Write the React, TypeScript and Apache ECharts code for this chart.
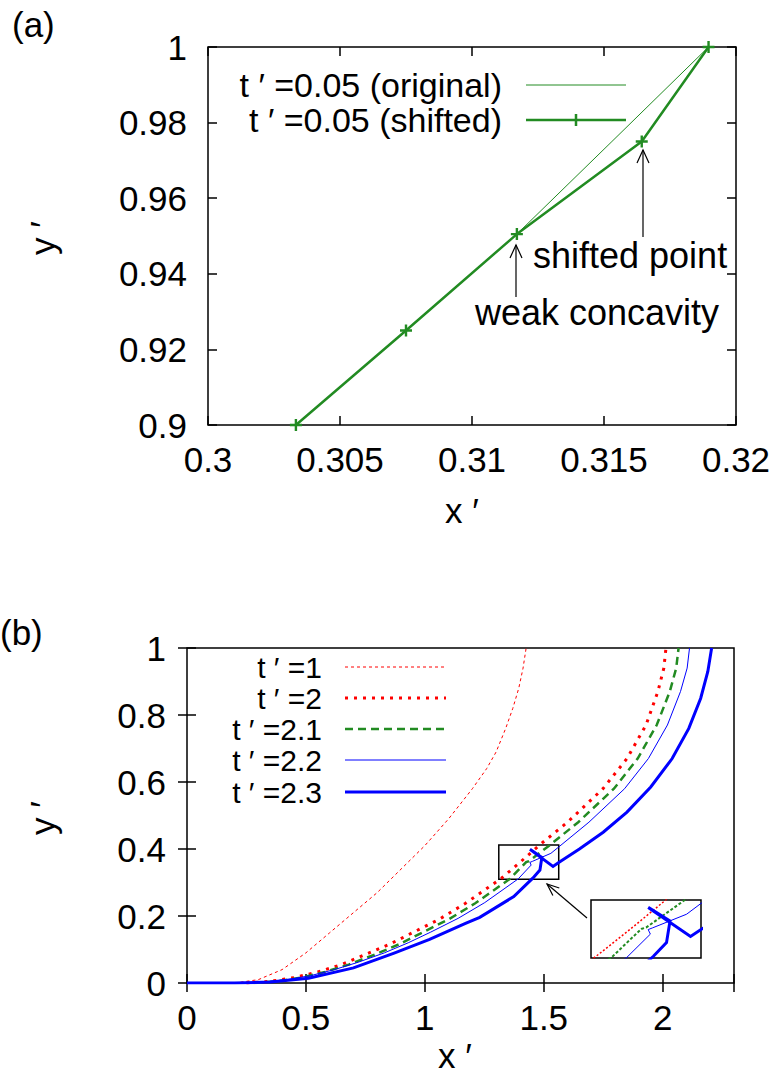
import React, { useEffect, useRef } from 'react';
import * as echarts from 'echarts';

const GREEN = '#228B22';
const RED = '#ff0000';
const BLUE = '#0000ff';
const FONT = '"Liberation Sans", Arial, sans-serif';
const FS = 35;

// ---------- Panel (a) ----------
const aXTicks = [0.3, 0.305, 0.31, 0.315, 0.32];
const aYTicks = [0.9, 0.92, 0.94, 0.96, 0.98, 1];
const aOriginalX = [0.30333, 0.3075, 0.3117, 0.3153, 0.31896];
const aOriginalY = [0.9, 0.925, 0.9505, 0.975, 1.0];
const aShiftedX = [0.30333, 0.3075, 0.3117, 0.31643, 0.31896];
const aShiftedY = [0.9, 0.925, 0.9505, 0.975, 1.0];

// ---------- Panel (b) ----------
const bXTicks = [0, 0.5, 1, 1.5, 2];
const bYTicks = [0, 0.2, 0.4, 0.6, 0.8, 1];

const t1X = [0.2, 0.3, 0.4, 0.5, 0.6, 0.7, 0.8, 0.9, 1.0, 1.1, 1.2, 1.26, 1.3, 1.34, 1.37, 1.395, 1.413, 1.426];
const t1Y = [0, 0.01, 0.04, 0.09, 0.15, 0.21, 0.27, 0.34, 0.41, 0.49, 0.58, 0.64, 0.69, 0.76, 0.82, 0.88, 0.94, 1.0];

const t2X = [0.25, 0.35, 0.45, 0.55, 0.65, 0.75, 0.85, 0.945, 1.06, 1.171, 1.321, 1.4, 1.479, 1.6, 1.749, 1.85, 1.93, 1.98, 2.005, 2.014];
const t2Y = [0, 0.005, 0.016, 0.033, 0.055, 0.085, 0.115, 0.149, 0.19, 0.238, 0.312, 0.36, 0.41, 0.48, 0.58, 0.67, 0.77, 0.87, 0.94, 1.0];

const t21X = [0.28, 0.38, 0.48, 0.58, 0.68, 0.79, 0.89, 0.985, 1.1, 1.212, 1.358, 1.426, 1.438, 1.526, 1.645, 1.795, 1.895, 1.975, 2.03, 2.057, 2.067];
const t21Y = [0, 0.005, 0.016, 0.033, 0.055, 0.085, 0.115, 0.149, 0.19, 0.238, 0.311, 0.361, 0.364, 0.412, 0.48, 0.58, 0.67, 0.77, 0.87, 0.94, 1.0];

const t22X = [0, 0.2, 0.32, 0.42, 0.52, 0.62, 0.72, 0.83, 0.93, 1.025, 1.14, 1.252, 1.393, 1.447, 1.442, 1.452, 1.53, 1.563, 1.69, 1.84, 1.94, 2.02, 2.075, 2.103, 2.113];
const t22Y = [0, 0, 0.003, 0.01, 0.022, 0.04, 0.062, 0.09, 0.12, 0.152, 0.193, 0.24, 0.311, 0.352, 0.36, 0.363, 0.387, 0.406, 0.48, 0.58, 0.67, 0.77, 0.87, 0.94, 1.0];

const t23X = [0, 0.2, 0.35, 0.511, 0.7, 0.871, 1.02, 1.171, 1.231, 1.374, 1.454, 1.484, 1.492, 1.442, 1.539, 1.563, 1.65, 1.75, 1.85, 1.95, 2.04, 2.11, 2.16, 2.19, 2.206];
const t23Y = [0, 0, 0.003, 0.014, 0.045, 0.089, 0.13, 0.178, 0.196, 0.258, 0.313, 0.337, 0.375, 0.399, 0.348, 0.36, 0.4, 0.45, 0.51, 0.585, 0.67, 0.76, 0.85, 0.93, 1.0];

// zoom window shown in the inset
const zoomX = [1.311, 1.563];
const zoomY = [0.31, 0.412];

const bLegend = ['t ′ =1', 't ′ =2', 't ′ =2.1', 't ′ =2.2', 't ′ =2.3'];
const aLegend = ['t ′ =0.05 (original)', 't ′ =0.05 (shifted)'];

const zip = (xs: number[], ys: number[]) => xs.map((x, i) => [x, ys[i]]);

const tickFmt = (ticks: number[]) => (v: number) => {
  const t = ticks.find((k) => Math.abs(k - v) < 1e-9);
  return t === undefined ? '' : String(t);
};

const PLUS = 'path://M4,0H6V4H10V6H6V10H4V6H0V4H4Z';

function axisPair(grid: number, min: number, max: number, interval: number, ticks: number[], dim: 'x' | 'y') {
  const main: any = {
    type: 'value',
    gridIndex: grid,
    min,
    max,
    interval,
    position: dim === 'x' ? 'bottom' : 'left',
    axisLine: { show: false },
    axisTick: { show: true, inside: true, length: 9, lineStyle: { color: '#000', width: 1.5 } },
    axisLabel: {
      show: true,
      color: '#000',
      fontSize: FS,
      fontFamily: FONT,
      margin: dim === 'x' ? 17 : 21,
      formatter: tickFmt(ticks),
    },
    splitLine: { show: false },
  };
  const mirror: any = {
    ...main,
    position: dim === 'x' ? 'top' : 'right',
    axisLabel: { show: false },
  };
  return [main, mirror];
}

export default function App() {
  const ref = useRef<HTMLDivElement>(null);
  useEffect(() => {
    if (!ref.current) return;
    const chart = echarts.init(ref.current, undefined, { renderer: 'svg' });

    const [ax0, ax1] = axisPair(0, 0.3, 0.32, 0.005, aXTicks, 'x');
    const [ay0, ay1] = axisPair(0, 0.9, 1, 0.02, aYTicks, 'y');
    const [bx0, bx1] = axisPair(1, 0, 2.3, 0.5, bXTicks, 'x');
    const [by0, by1] = axisPair(1, 0, 1, 0.2, bYTicks, 'y');

    const insetX = { type: 'value', gridIndex: 2, min: zoomX[0], max: zoomX[1], show: false };
    const insetY = { type: 'value', gridIndex: 2, min: zoomY[0], max: zoomY[1], show: false };

    const textStyle = (text: string, align: string, size: number = FS) => ({
      text,
      fill: '#000',
      font: `${size}px ${FONT}`,
      align,
      verticalAlign: 'middle',
    });

    const bRows = [667, 698, 729, 760, 792];
    const bStyles = [
      { stroke: RED, lineWidth: 1, lineDash: [3, 3] },
      { stroke: RED, lineWidth: 3, lineDash: [3, 6] },
      { stroke: GREEN, lineWidth: 2.5, lineDash: [8, 5] },
      { stroke: BLUE, lineWidth: 1 },
      { stroke: BLUE, lineWidth: 3 },
    ];

    const graphic: any[] = [
      { type: 'text', x: 0, y: 632, style: textStyle('(b)', 'left') },
      { type: 'text', x: 12, y: 24, style: textStyle('(a)', 'left') },
      // axis names
      { type: 'text', x: 462, y: 510, style: textStyle('x ′', 'center') },
      { type: 'text', x: 455, y: 1055, style: textStyle('x ′', 'center') },
      { type: 'text', x: 42, y: 238, rotation: Math.PI / 2, style: textStyle('y ′', 'center') },
      { type: 'text', x: 42, y: 818, rotation: Math.PI / 2, style: textStyle('y ′', 'center') },
      // legend (a)
      { type: 'text', x: 502, y: 85, style: textStyle(aLegend[0], 'right', 34) },
      { type: 'line', shape: { x1: 526, y1: 85, x2: 626, y2: 85 }, style: { stroke: GREEN, lineWidth: 1 } },
      { type: 'text', x: 502, y: 120, style: textStyle(aLegend[1], 'right', 34) },
      { type: 'line', shape: { x1: 526, y1: 120, x2: 626, y2: 120 }, style: { stroke: GREEN, lineWidth: 2.5 } },
      { type: 'line', shape: { x1: 576, y1: 114, x2: 576, y2: 126 }, style: { stroke: GREEN, lineWidth: 2.5 } },
      // annotations (a)
      { type: 'text', x: 533, y: 255, style: textStyle('shifted point', 'left', 36) },
      { type: 'text', x: 475, y: 312, style: textStyle('weak concavity', 'left', 36) },
      { type: 'line', shape: { x1: 643, y1: 237, x2: 643, y2: 150 }, style: { stroke: '#000', lineWidth: 1.2 } },
      { type: 'polyline', shape: { points: [[637, 163], [643, 150], [649, 163]] }, style: { stroke: '#000', lineWidth: 1.2, fill: null } },
      { type: 'line', shape: { x1: 516, y1: 297, x2: 516, y2: 245 }, style: { stroke: '#000', lineWidth: 1.2 } },
      { type: 'polyline', shape: { points: [[510, 258], [516, 245], [522, 258]] }, style: { stroke: '#000', lineWidth: 1.2, fill: null } },
      // arrow to inset
      { type: 'line', shape: { x1: 587, y1: 918, x2: 547, y2: 884 }, style: { stroke: '#000', lineWidth: 1.2 } },
      { type: 'polyline', shape: { points: [[559.3, 888], [547, 884], [552.9, 895.6]] }, style: { stroke: '#000', lineWidth: 1.2, fill: null } },
    ];
    bLegend.forEach((lab, i) => {
      graphic.push({ type: 'text', x: 322, y: bRows[i], style: textStyle(lab, 'right', 30) });
      graphic.push({ type: 'line', shape: { x1: 345, y1: bRows[i], x2: 446, y2: bRows[i] }, style: { ...bStyles[i], fill: null } });
    });

    const bLine = (name: string, xs: number[], ys: number[], color: string, width: number, dash: any, xi: number, yi: number, extra: any = {}) => ({
      name,
      type: 'line',
      xAxisIndex: xi,
      yAxisIndex: yi,
      data: zip(xs, ys),
      symbol: 'none',
      showSymbol: false,
      clip: true,
      lineStyle: { color, width, type: dash, cap: 'butt', join: 'miter' },
      itemStyle: { color },
      z: 3,
      ...extra,
    });

    chart.setOption({
      animation: false,
      backgroundColor: '#fff',
      grid: [
        { left: 208, top: 47, width: 528, height: 378, show: true, borderColor: '#000', borderWidth: 1.5, backgroundColor: 'transparent' },
        { left: 187, top: 648, width: 547, height: 335, show: true, borderColor: '#000', borderWidth: 1.5, backgroundColor: 'transparent' },
        { left: 591, top: 900, width: 110, height: 58, show: true, borderColor: '#000', borderWidth: 1.5, backgroundColor: '#fff' },
      ],
      xAxis: [ax0, ax1, bx0, bx1, insetX],
      yAxis: [ay0, ay1, by0, by1, insetY],
      series: [
        {
          name: 't′=0.05 (original)',
          type: 'line',
          xAxisIndex: 0,
          yAxisIndex: 0,
          data: zip(aOriginalX, aOriginalY),
          symbol: 'none',
          lineStyle: { color: GREEN, width: 1 },
          itemStyle: { color: GREEN },
        },
        {
          name: 't′=0.05 (shifted)',
          type: 'line',
          xAxisIndex: 0,
          yAxisIndex: 0,
          data: zip(aShiftedX, aShiftedY),
          symbol: PLUS,
          symbolSize: 12,
          showSymbol: true,
          lineStyle: { color: GREEN, width: 2.5 },
          itemStyle: { color: GREEN },
        },
        bLine('t′=1', t1X, t1Y, RED, 1, [3, 3], 2, 2),
        bLine('t′=2', t2X, t2Y, RED, 3, [3, 6], 2, 2),
        bLine('t′=2.1', t21X, t21Y, GREEN, 2.5, [8, 5], 2, 2),
        bLine('t′=2.2', t22X, t22Y, BLUE, 1, 'solid', 2, 2),
        bLine('t′=2.3', t23X, t23Y, BLUE, 3, 'solid', 2, 2, {
          markArea: {
            silent: true,
            itemStyle: { color: 'transparent', borderColor: '#000', borderWidth: 1.5 },
            data: [[{ coord: [zoomX[0], zoomY[1]] }, { coord: [zoomX[1], zoomY[0]] }]],
          },
        }),
        // inset
        bLine('t′=2 (inset)', t2X, t2Y, RED, 1.5, [2, 2], 4, 4),
        bLine('t′=2.1 (inset)', t21X, t21Y, GREEN, 2, [3, 2], 4, 4),
        bLine('t′=2.2 (inset)', t22X, t22Y, BLUE, 1, 'solid', 4, 4),
        bLine('t′=2.3 (inset)', t23X, t23Y, BLUE, 3, 'solid', 4, 4),
      ],
      graphic,
    });
    return () => chart.dispose();
  }, []);
  return <div ref={ref} style={{ position: 'absolute', left: 0, top: 0, width: 784, height: 1077 }} />;
}
